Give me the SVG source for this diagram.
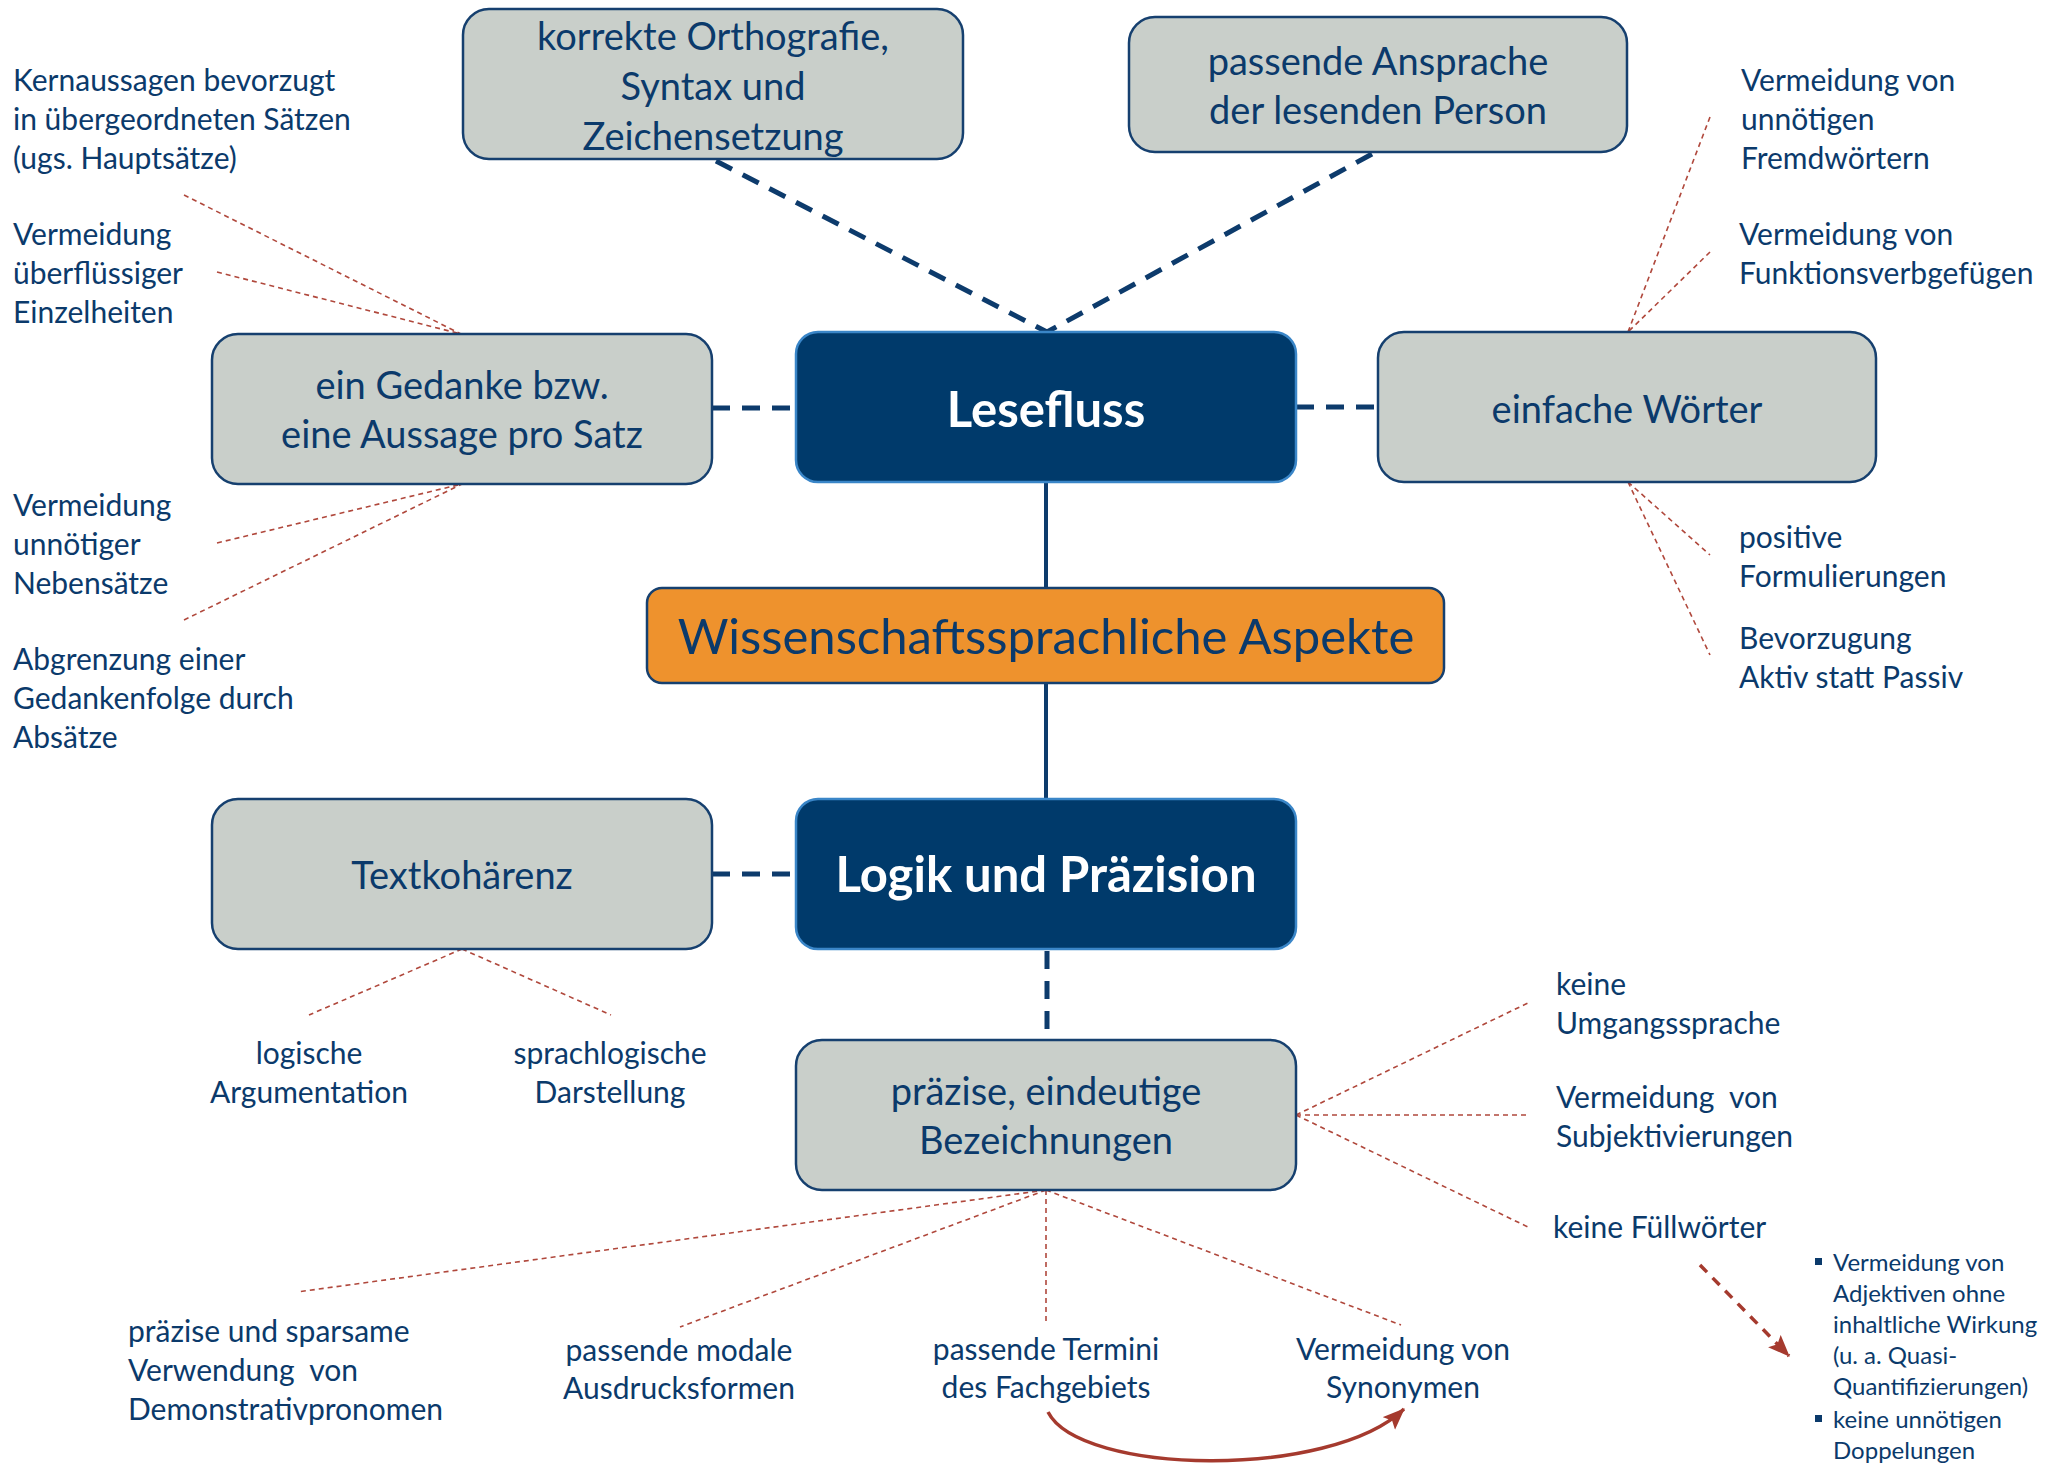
<svg xmlns="http://www.w3.org/2000/svg" width="2063" height="1463" viewBox="0 0 2063 1463">
<style>
text{font-family:Lato,"Liberation Sans",sans-serif;fill:#0B3A6B}
.g{fill:#C9CFCA;stroke:#16406F;stroke-width:2.5}
.d{fill:#003A6B;stroke:#3A86C8;stroke-width:2.5}
.o{fill:#EE922D;stroke:#16406F;stroke-width:2.5}
.bt{font-size:38px;text-anchor:middle}
.hb{font-size:49px;font-weight:bold;fill:#FFFFFF;text-anchor:middle}
.s{font-size:30px}
.sc{font-size:30px;text-anchor:middle}
.b{font-size:24px}
.nd{stroke:#0D3B6C;stroke-width:5;stroke-dasharray:18 12;fill:none}
.ns{stroke:#0D3B6C;stroke-width:4;fill:none}
.rd{stroke:#B0483C;stroke-width:1.6;stroke-dasharray:5 4;fill:none}
</style>
<defs>
<marker id="ra" markerUnits="userSpaceOnUse" viewBox="0 0 20 16" refX="19" refY="8" markerWidth="22" markerHeight="18" orient="auto">
<path d="M0,0 L20,8 L0,16 L4,8 z" fill="#A53A2E"/>
</marker>
</defs>
<rect width="2063" height="1463" fill="#FFFFFF"/>
<g id="connectors">
<line class="nd" x1="716" y1="161" x2="1047" y2="332"/>
<line class="nd" x1="1372" y1="154" x2="1047" y2="332"/>
<line class="nd" x1="712" y1="408" x2="796" y2="408"/>
<line class="nd" x1="1296" y1="407" x2="1378" y2="407"/>
<line class="ns" x1="1046" y1="482" x2="1046" y2="588"/>
<line class="ns" x1="1046" y1="683" x2="1046" y2="799"/>
<line class="nd" x1="712" y1="874" x2="796" y2="874"/>
<line class="nd" x1="1047" y1="951" x2="1047" y2="1038" stroke-dasharray="17 14"/>
<line class="rd" x1="184" y1="195" x2="461" y2="334"/>
<line class="rd" x1="217" y1="272" x2="461" y2="334"/>
<line class="rd" x1="217" y1="543" x2="462" y2="484"/>
<line class="rd" x1="184" y1="620" x2="462" y2="484"/>
<line class="rd" x1="1710" y1="117" x2="1628" y2="332"/>
<line class="rd" x1="1710" y1="252" x2="1628" y2="332"/>
<line class="rd" x1="1628" y1="482" x2="1710" y2="555"/>
<line class="rd" x1="1628" y1="482" x2="1710" y2="655"/>
<line class="rd" x1="462" y1="949" x2="309" y2="1015"/>
<line class="rd" x1="462" y1="949" x2="611" y2="1015"/>
<line class="rd" x1="1296" y1="1115" x2="1530" y2="1002"/>
<line class="rd" x1="1296" y1="1115" x2="1530" y2="1115"/>
<line class="rd" x1="1296" y1="1115" x2="1530" y2="1228"/>
<line class="rd" x1="1046" y1="1190" x2="297" y2="1292"/>
<line class="rd" x1="1046" y1="1190" x2="680" y2="1327"/>
<line class="rd" x1="1046" y1="1190" x2="1046" y2="1325" stroke-dasharray="8 4"/>
<line class="rd" x1="1046" y1="1190" x2="1401" y2="1325"/>
<path d="M1048,1412 C1080,1475 1330,1480 1404,1409" fill="none" stroke="#A53A2E" stroke-width="3.5" marker-end="url(#ra)"/>
<line x1="1700" y1="1265" x2="1789" y2="1356" stroke="#A53A2E" stroke-width="3.5" stroke-dasharray="10 8" marker-end="url(#ra)"/>
</g>
<g id="n-orthografie">
<rect class="g" x="463" y="9" width="500" height="150" rx="26"/>
<text class="bt" x="713" y="50">korrekte Orthografie,</text>
<text class="bt" x="713" y="100">Syntax und</text>
<text class="bt" x="713" y="150">Zeichensetzung</text>
</g>
<g id="n-ansprache">
<rect class="g" x="1129" y="17" width="498" height="135" rx="26"/>
<text class="bt" x="1378" y="75">passende Ansprache</text>
<text class="bt" x="1378" y="124">der lesenden Person</text>
</g>
<g id="n-gedanke">
<rect class="g" x="212" y="334" width="500" height="150" rx="26"/>
<text class="bt" x="462" y="399">ein Gedanke bzw.</text>
<text class="bt" x="462" y="448">eine Aussage pro Satz</text>
</g>
<g id="n-lesefluss">
<rect class="d" x="796" y="332" width="500" height="150" rx="22"/>
<text class="hb" x="1046" y="427">Lesefluss</text>
</g>
<g id="n-einfach">
<rect class="g" x="1378" y="332" width="498" height="150" rx="26"/>
<text class="bt" x="1627" y="423">einfache Wörter</text>
</g>
<g id="n-wiss">
<rect class="o" x="647" y="588" width="797" height="95" rx="15"/>
<text x="1046" y="654" style="font-size:49px;text-anchor:middle">Wissenschaftssprachliche Aspekte</text>
</g>
<g id="n-textkohaerenz">
<rect class="g" x="212" y="799" width="500" height="150" rx="26"/>
<text class="bt" x="462" y="889">Textkohärenz</text>
</g>
<g id="n-logik">
<rect class="d" x="796" y="799" width="500" height="150" rx="22"/>
<text class="hb" x="1046" y="892">Logik und Präzision</text>
</g>
<g id="n-praezise">
<rect class="g" x="796" y="1040" width="500" height="150" rx="26"/>
<text class="bt" x="1046" y="1105">präzise, eindeutige</text>
<text class="bt" x="1046" y="1154">Bezeichnungen</text>
</g>
<g id="t-kernaussagen">
<text class="s" x="13" y="91">Kernaussagen bevorzugt</text>
<text class="s" x="13" y="130">in übergeordneten Sätzen</text>
<text class="s" x="13" y="169">(ugs. Hauptsätze)</text>
</g>
<g id="t-einzelheiten">
<text class="s" x="13" y="245">Vermeidung</text>
<text class="s" x="13" y="284">überflüssiger</text>
<text class="s" x="13" y="323">Einzelheiten</text>
</g>
<g id="t-nebensaetze">
<text class="s" x="13" y="516">Vermeidung</text>
<text class="s" x="13" y="555">unnötiger</text>
<text class="s" x="13" y="594">Nebensätze</text>
</g>
<g id="t-abgrenzung">
<text class="s" x="13" y="670">Abgrenzung einer</text>
<text class="s" x="13" y="709">Gedankenfolge durch</text>
<text class="s" x="13" y="748">Absätze</text>
</g>
<g id="t-fremdwoerter">
<text class="s" x="1741" y="91">Vermeidung von</text>
<text class="s" x="1741" y="130">unnötigen</text>
<text class="s" x="1741" y="169">Fremdwörtern</text>
</g>
<g id="t-funktionsverb">
<text class="s" x="1739" y="245">Vermeidung von</text>
<text class="s" x="1739" y="284">Funktionsverbgefügen</text>
</g>
<g id="t-positiv">
<text class="s" x="1739" y="548">positive</text>
<text class="s" x="1739" y="587">Formulierungen</text>
</g>
<g id="t-aktiv">
<text class="s" x="1739" y="649">Bevorzugung</text>
<text class="s" x="1739" y="688">Aktiv statt Passiv</text>
</g>
<g id="t-logisch">
<text class="sc" x="309" y="1064">logische</text>
<text class="sc" x="309" y="1103">Argumentation</text>
</g>
<g id="t-sprachlogisch">
<text class="sc" x="610" y="1064">sprachlogische</text>
<text class="sc" x="610" y="1103">Darstellung</text>
</g>
<g id="t-umgang">
<text class="s" x="1556" y="995">keine</text>
<text class="s" x="1556" y="1034">Umgangssprache</text>
</g>
<g id="t-subjekt">
<text class="s" x="1556" y="1108" xml:space="preserve">Vermeidung  von</text>
<text class="s" x="1556" y="1147">Subjektivierungen</text>
</g>
<g id="t-fuell">
<text class="s" x="1553" y="1238">keine Füllwörter</text>
</g>
<g id="t-demonstrativ">
<text class="s" x="128" y="1342">präzise und sparsame</text>
<text class="s" x="128" y="1381" xml:space="preserve">Verwendung  von</text>
<text class="s" x="128" y="1420">Demonstrativpronomen</text>
</g>
<g id="t-modal">
<text class="sc" x="679" y="1361">passende modale</text>
<text class="sc" x="679" y="1399">Ausdrucksformen</text>
</g>
<g id="t-termini">
<text class="sc" x="1046" y="1360">passende Termini</text>
<text class="sc" x="1046" y="1398">des Fachgebiets</text>
</g>
<g id="t-synonyme">
<text class="sc" x="1403" y="1360">Vermeidung von</text>
<text class="sc" x="1403" y="1398">Synonymen</text>
</g>
<g id="t-bullets">
<rect x="1815" y="1258" width="7" height="7" fill="#0B3A6B"/>
<rect x="1815" y="1415" width="7" height="7" fill="#0B3A6B"/>
<text class="b" x="1833" y="1271">Vermeidung von</text>
<text class="b" x="1833" y="1302">Adjektiven ohne</text>
<text class="b" x="1833" y="1333">inhaltliche Wirkung</text>
<text class="b" x="1833" y="1364">(u. a. Quasi-</text>
<text class="b" x="1833" y="1395">Quantifizierungen)</text>
<text class="b" x="1833" y="1428">keine unnötigen</text>
<text class="b" x="1833" y="1459">Doppelungen</text>
</g>
</svg>
